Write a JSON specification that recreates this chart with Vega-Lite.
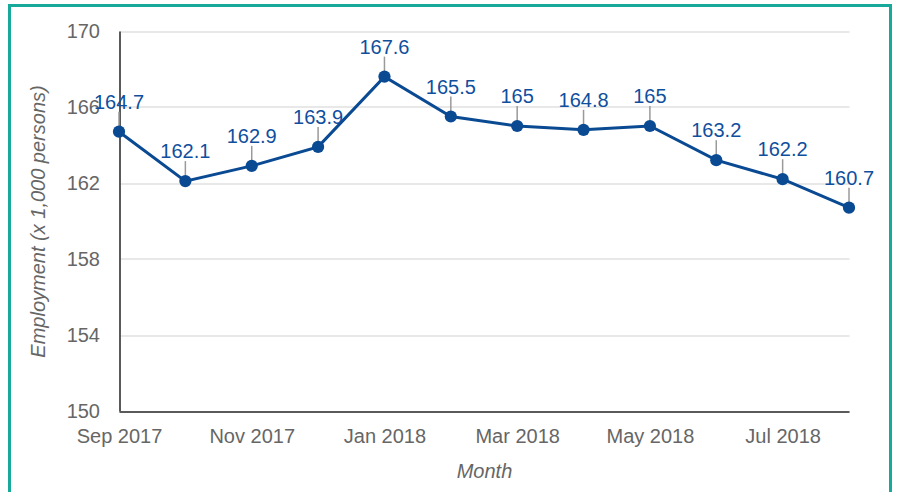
{
  "$schema": "https://vega.github.io/schema/vega-lite/v6.json",
  "width": 881,
  "height": 500,
  "autosize": {"type": "none"},
  "padding": {"left": 9.5, "top": 5.5, "right": 7.5, "bottom": 0},
  "background": "white",
  "config": {
    "view": {"stroke": "#17a99a", "strokeWidth": 3},
    "font": "Liberation Sans",
    "axis": {
      "domainColor": "#5a5a5a",
      "domainWidth": 2,
      "gridColor": "#e0e0e0",
      "gridWidth": 1.5,
      "ticks": false,
      "tickSize": 0,
      "labelColor": "#666666",
      "labelFontSize": 20,
      "labelFont": "Liberation Sans",
      "titleColor": "#666666",
      "titleFontSize": 20,
      "titleFont": "Liberation Sans",
      "titleFontStyle": "italic",
      "titleFontWeight": "normal"
    }
  },
  "data": {
    "values": [
      {"month": "Sep 2017", "employment": 164.7},
      {"month": "Oct 2017", "employment": 162.1},
      {"month": "Nov 2017", "employment": 162.9},
      {"month": "Dec 2017", "employment": 163.9},
      {"month": "Jan 2018", "employment": 167.6},
      {"month": "Feb 2018", "employment": 165.5},
      {"month": "Mar 2018", "employment": 165},
      {"month": "Apr 2018", "employment": 164.8},
      {"month": "May 2018", "employment": 165},
      {"month": "Jun 2018", "employment": 163.2},
      {"month": "Jul 2018", "employment": 162.2},
      {"month": "Aug 2018", "employment": 160.7}
    ]
  },
  "encoding": {
    "x": {
      "field": "month",
      "type": "ordinal",
      "sort": null,
      "scale": {"type": "point", "range": [109.5, 839.5], "padding": 0},
      "axis": {
        "values": ["Sep 2017", "Nov 2017", "Jan 2018", "Mar 2018", "May 2018", "Jul 2018"],
        "offset": -94,
        "labelAngle": 0,
        "labelPadding": 15,
        "title": "Month",
        "titlePadding": 15
      }
    },
    "y": {
      "field": "employment",
      "type": "quantitative",
      "scale": {"domain": [150, 170], "range": [405.5, 25.5], "nice": false, "zero": false},
      "axis": {
        "values": [150, 154, 158, 162, 166, 170],
        "offset": -110,
        "labelPadding": 20,
        "title": "Employment (x 1,000 persons)",
        "titlePadding": 18
      }
    }
  },
  "layer": [
    {
      "mark": {"type": "rule", "y2Offset": -20, "color": "#9a9a9a", "strokeWidth": 1.5},
      "encoding": {"y2": {"field": "employment"}}
    },
    {
      "mark": {"type": "line", "color": "#0a4a93", "strokeWidth": 3}
    },
    {
      "mark": {"type": "point", "filled": true, "size": 150, "opacity": 1, "color": "#0a4a93"}
    },
    {
      "mark": {"type": "text", "dy": -23, "baseline": "alphabetic", "align": "center", "fontSize": 20, "font": "Liberation Sans", "color": "#0f4f9e"},
      "encoding": {"text": {"field": "employment", "type": "quantitative", "format": "~g"}}
    }
  ]
}
